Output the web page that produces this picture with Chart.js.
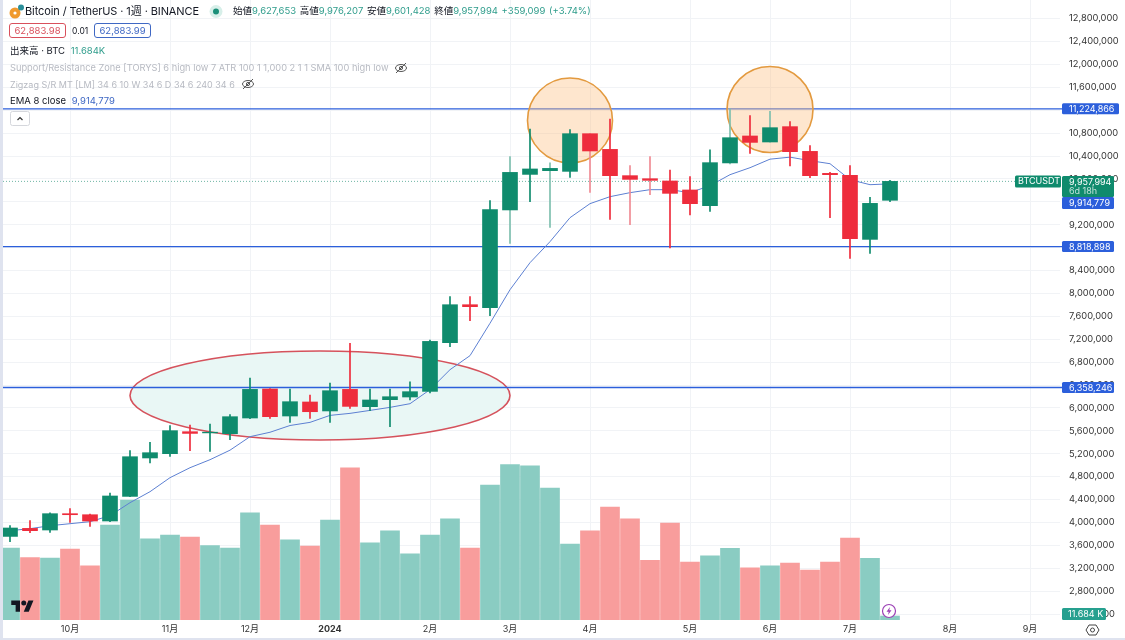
<!DOCTYPE html>
<html>
<head>
<meta charset="utf-8">
<title>BTCUSDT</title>
<script src="https://cdn.jsdelivr.net/npm/chart.js@4"></script>
<style>
  html, body { margin: 0; padding: 0; background: #fff; }
  body { width: 1125px; height: 640px; overflow: hidden; position: relative; font-family: Inter, "Noto Sans CJK JP", sans-serif; color: #131722; }
  canvas { position: absolute; left: 0; top: 0; }
  .txt { position: absolute; white-space: nowrap; line-height: 14px; }
  .strip { position: absolute; background: #dfe3ef; }
  .box { position: absolute; box-sizing: border-box; height: 15px; width: 57px; top: 23px; border-radius: 3px; border: 1px solid; font-size: 9.5px; line-height: 13px; text-align: center; }
  svg { position: absolute; }
  .up { color: #2f9d8c; }
  .muted { color: #b7bac2; }
</style>
</head>
<body>
<canvas id="chart" width="1125" height="640"></canvas>

<div class="strip" style="left:0;top:0;width:3px;height:640px"></div>
<div class="strip" style="left:0;top:638px;width:1125px;height:2px"></div>

<svg style="left:8px;top:3px" width="18" height="17"><circle cx="7" cy="10" r="5.5" fill="#f09a2e"/><circle cx="7" cy="10" r="1.6" fill="#fff"/><circle cx="13" cy="4.5" r="3" fill="#2b8f9a"/></svg>
<div class="txt" style="left:25px;top:4px;font-size:11px;letter-spacing:-0.1px">Bitcoin / TetherUS · 1週 · BINANCE</div>
<svg style="left:208px;top:4px" width="16" height="15"><circle cx="8" cy="7.5" r="6.5" fill="#d7efe9"/><circle cx="8" cy="7.5" r="3" fill="#1a8f78"/></svg>
<div class="txt" style="left:233px;top:4px;font-size:9.5px;word-spacing:1px">始値<span class="up">9,627,653</span> 高値<span class="up">9,976,207</span> 安値<span class="up">9,601,428</span> 終値<span class="up">9,957,994</span> <span class="up">+359,099 (+3.74%)</span></div>

<div class="box" style="left:9px;color:#d9505c;border-color:#d9505c">62,883.98</div>
<div class="txt" style="left:72px;top:24px;font-size:8.5px">0.01</div>
<div class="box" style="left:94px;color:#3f68c4;border-color:#3f68c4">62,883.99</div>

<div class="txt" style="left:10px;top:44px;font-size:9.5px">出来高 · BTC <span class="up" style="margin-left:3px">11.684K</span></div>
<div class="txt muted" style="left:10px;top:61px;font-size:9.25px">Support/Resistance Zone [TORYS] 6 high low 7 ATR 100 1 1,000 2 1 1 SMA 100 high low</div>
<svg style="left:394px;top:61px" width="14" height="14"><ellipse cx="7" cy="7" rx="5.5" ry="3.5" fill="none" stroke="#555" stroke-width="1"/><circle cx="7" cy="7" r="1.6" fill="none" stroke="#555"/><path d="M2 12 L12 2" stroke="#555"/></svg>
<div class="txt muted" style="left:10px;top:78px;font-size:9px">Zigzag S/R MT [LM] 34 6 10 W 34 6 D 34 6 240 34 6</div>
<svg style="left:241px;top:77px" width="14" height="14"><ellipse cx="7" cy="7" rx="5.5" ry="3.5" fill="none" stroke="#555" stroke-width="1"/><circle cx="7" cy="7" r="1.6" fill="none" stroke="#555"/><path d="M2 12 L12 2" stroke="#555"/></svg>
<div class="txt" style="left:10px;top:94px;font-size:9.5px">EMA 8 close <span style="color:#3f68c4;margin-left:3px">9,914,779</span></div>
<svg style="left:10px;top:111px" width="20" height="15"><rect x="0.5" y="0.5" width="19" height="14" rx="2" fill="#fff" stroke="#d5d7dc"/><path d="M7.5 9 L10 6.5 L12.5 9" fill="none" stroke="#333" stroke-width="1.2"/></svg>

<svg style="left:11px;top:598px" width="23" height="15" viewBox="0 0 36 24"><path fill="#131722" d="M14 22H7V11H0V4h14v18zM28 22h-8l7.5-18h8L28 22z"/><circle fill="#131722" cx="20" cy="8" r="4"/></svg>
<svg style="left:881px;top:603px" width="16" height="16"><circle cx="8" cy="8" r="6.5" fill="#fff" stroke="#9b3fb5" stroke-width="1.2"/><path d="M9 4 L5.5 8.8 L7.7 8.8 L7 12 L10.5 7.2 L8.3 7.2 Z" fill="#9b3fb5"/></svg>
<svg style="left:1085px;top:623px" width="15" height="14"><path d="M4 2 H11 L14 7 L11 12 H4 L1 7 Z" fill="none" stroke="#444"/><circle cx="7.5" cy="7" r="2" fill="none" stroke="#444"/></svg>

<script>
const monthLabels = ['', '', '', '10月', '', '', '', '', '11月', '', '', '', '12月', '', '', '', '2024', '', '', '', '', '2月', '', '', '', '3月', '', '', '', '4月', '', '', '', '', '5月', '', '', '', '6月', '', '', '', '7月', '', '', '', '', '8月', '', '', '', '9月', ''];

const candleOpen = [3757000, 3897000, 3869000, 4154000, 4136000, 4026000, 4456000, 5127000, 5202000, 5586000, 5565000, 5551000, 5825000, 6332000, 5860000, 6105000, 5948000, 6325000, 6023000, 6145000, 6192000, 6290000, 7141000, 7804000, 7752000, 9459000, 10080000, 10145000, 10133000, 10791000, 10517000, 10058000, 10005000, 9965000, 9808000, 9534000, 10280000, 10751000, 10646000, 10914000, 10482000, 10098000, 10063000, 8945000, 9627653];
const candleClose = [3904000, 3857000, 4154000, 4136000, 4026000, 4463000, 5149000, 5219000, 5604000, 5556000, 5577000, 5848000, 6325000, 5848000, 6110000, 5935000, 6302000, 6028000, 6140000, 6197000, 6285000, 7163000, 7804000, 7770000, 9464000, 10115000, 10175000, 10185000, 10791000, 10489000, 10058000, 9993000, 9976000, 9749000, 9569000, 10285000, 10721000, 10639000, 10896000, 10477000, 10058000, 10075000, 8957000, 9574000, 9957994];
const candleHigh = [3944000, 4032000, 4171000, 4241000, 4149000, 4515000, 5254000, 5399000, 5691000, 5703000, 5721000, 5883000, 6524000, 6337000, 6332000, 6227000, 6437000, 7128000, 6332000, 6332000, 6459000, 7184000, 7944000, 7944000, 9621000, 10390000, 10873000, 10280000, 10861000, 10791000, 11048000, 10232000, 10390000, 10157000, 10040000, 10507000, 11223000, 11106000, 11181000, 11001000, 10582000, 10115000, 10232000, 9679000, 9976207];
const candleLow = [3665000, 3822000, 3827000, 4002000, 3932000, 4014000, 4451000, 5039000, 5155000, 5254000, 5242000, 5446000, 5813000, 5818000, 5749000, 5818000, 5749000, 5993000, 5953000, 5673000, 6140000, 6262000, 7071000, 7525000, 7612000, 8875000, 9604000, 9155000, 10028000, 9766000, 9294000, 9202000, 9726000, 8795000, 9371000, 9434000, 10262000, 10447000, 10643000, 10227000, 10023000, 9324000, 8613000, 8700000, 9601428];
const volumeK = [210, 182, 181, 207, 158, 277, 350, 237, 248, 242, 217, 210, 313, 277, 234, 216, 292, 444, 225, 260, 193, 248, 295, 210, 394, 454, 450, 385, 222, 260, 330, 295, 174, 283, 169, 187, 209, 152, 158, 166, 146, 169, 239, 180, 11.684];
const emaValues = [3857000, 3892000, 3944000, 3979000, 4014000, 4119000, 4346000, 4538000, 4783000, 4957000, 5097000, 5263000, 5499000, 5576000, 5694000, 5749000, 5871000, 5906000, 5958000, 6011000, 6075000, 6320000, 6669000, 6914000, 7480000, 8066000, 8538000, 8905000, 9324000, 9569000, 9691000, 9761000, 9813000, 9813000, 9761000, 9883000, 10075000, 10197000, 10346000, 10381000, 10320000, 10267000, 9988000, 9900000, 9914779];

const priceTicks = [12800000, 12400000, 12000000, 11600000, 11200000, 10800000, 10400000, 10000000, 9600000, 9200000, 8800000, 8400000, 8000000, 7600000, 7200000, 6800000, 6400000, 6000000, 5600000, 5200000, 4800000, 4400000, 4000000, 3600000, 3200000, 2800000, 2400000];
const levelValues = [11224866, 8818898, 6358246];
const paleWicks = [25, 27, 29, 31, 32, 36, 38];
const lastClose = 9957994;
const lastEma = 9914779;

const GREEN = '#0f8b6d';
const RED = '#ee2c3c';
const BLUE = '#2c5fdb';

function isUp(i) {
  return candleClose[i] >= candleOpen[i];
}

// Rounded price tag on the axis
function tag(ctx, x, y, w, h, fill, lines, pad) {
  ctx.fillStyle = fill;
  ctx.beginPath();
  ctx.roundRect(x, y, w, h, 1.5);
  ctx.fill();
  ctx.fillStyle = '#fff';
  ctx.textBaseline = 'middle';
  ctx.textAlign = 'left';
  ctx.font = '9px Inter';
  lines.forEach((text, n) => {
    ctx.globalAlpha = n === 0 ? 1 : 0.75;
    ctx.fillText(text, x + pad, y + 6 + n * 9.5);
  });
  ctx.globalAlpha = 1;
}

function oval(chart, idx, xRadius, price, priceRadius, fill, stroke) {
  const { x, y } = chart.scales;
  const cx = x.getPixelForValue(idx);
  const cy = y.getPixelForValue(price);
  const rx = Math.abs(x.getPixelForValue(idx + xRadius) - cx);
  const ry = Math.abs(y.getPixelForValue(price + priceRadius) - cy);
  const ctx = chart.ctx;
  ctx.beginPath();
  ctx.ellipse(cx, cy, rx, ry, 0, 0, Math.PI * 2);
  ctx.fillStyle = fill;
  ctx.fill();
  ctx.lineWidth = 1.6;
  ctx.strokeStyle = stroke;
  ctx.stroke();
}

const drawings = {
  id: 'drawings',
  beforeDatasetsDraw(chart) {
    const { ctx, chartArea, scales } = chart;
    ctx.save();
    oval(chart, 15.5, 9.5, 6218000, 777000, '#e9f7f5', '#d5525c');

    const closeY = scales.y.getPixelForValue(lastClose);
    ctx.setLineDash([1, 2]);
    ctx.strokeStyle = '#6fb5a4';
    ctx.lineWidth = 1;
    ctx.beginPath();
    ctx.moveTo(chartArea.left, closeY);
    ctx.lineTo(1016, closeY);
    ctx.stroke();
    ctx.setLineDash([]);

    ctx.strokeStyle = BLUE;
    ctx.lineWidth = 1.3;
    levelValues.forEach(v => {
      const y = scales.y.getPixelForValue(v);
      ctx.beginPath();
      ctx.moveTo(chartArea.left, y);
      ctx.lineTo(chartArea.right + 2, y);
      ctx.stroke();
    });

    oval(chart, 28, 2.125, 11021000, 742000, 'rgba(252,190,125,0.38)', '#e39a3f');
    oval(chart, 38, 2.15, 11214000, 751000, 'rgba(252,190,125,0.38)', '#e39a3f');
    ctx.restore();
  },
  afterDraw(chart) {
    const { ctx, scales } = chart;
    ctx.save();
    levelValues.forEach(v => {
      const y = scales.y.getPixelForValue(v);
      const text = v.toLocaleString('en-US');
      tag(ctx, 1062, y - 5.5, text.length > 9 ? 57 : 52, 11, BLUE, [text], 7);
    });
    const closeY = scales.y.getPixelForValue(lastClose);
    tag(ctx, 1062, closeY - 5.5, 52, 21, GREEN, [lastClose.toLocaleString('en-US'), '6d 18h'], 7);
    tag(ctx, 1062, closeY + 15.5, 52, 12, BLUE, [lastEma.toLocaleString('en-US')], 7);
    tag(ctx, 1015, closeY - 6, 46, 12, GREEN, ['BTCUSDT'], 3);
    tag(ctx, 1062, scales.yVol.getPixelForValue(volumeK[44]) - 8, 44, 12, '#26a08f', ['11.684 K'], 6);
    ctx.restore();
  }
};

const bodyBars = candleOpen.map((v, i) => [v, candleClose[i]]);
const wickBars = candleLow.map((v, i) => [v, candleHigh[i]]);
const candleColor = c => (isUp(c.dataIndex) ? GREEN : RED);
const wickColor = c => {
  if (paleWicks.includes(c.dataIndex)) {
    return isUp(c.dataIndex) ? '#7dbfae' : '#f08a93';
  }
  return candleColor(c);
};
const volumeColor = c => (isUp(c.dataIndex) ? '#8accc2' : '#f89d9c');

new Chart(document.getElementById('chart').getContext('2d'), {
  type: 'bar',
  data: {
    labels: monthLabels,
    datasets: [{
      label: 'Body',
      data: bodyBars,
      yAxisID: 'y',
      backgroundColor: candleColor,
      barThickness: 15,
      grouped: false,
      order: 0
    }, {
      label: 'Wick',
      data: wickBars,
      yAxisID: 'y',
      backgroundColor: wickColor,
      barThickness: 1,
      grouped: false,
      order: 1
    }, {
      type: 'line',
      label: 'EMA 8',
      data: emaValues,
      yAxisID: 'y',
      borderColor: '#5d80d2',
      borderWidth: 1,
      pointRadius: 0,
      tension: 0,
      order: 2
    }, {
      label: 'Volume',
      data: volumeK,
      yAxisID: 'yVol',
      backgroundColor: volumeColor,
      barThickness: 19,
      grouped: false,
      order: 3
    }]
  },
  options: {
    responsive: false,
    animation: false,
    layout: { padding: 0 },
    plugins: { legend: { display: false }, tooltip: { enabled: false } },
    scales: {
      x: {
        offset: true,
        grid: {
          offset: false,
          drawTicks: false,
          color: c => (c.tick && monthLabels[c.tick.value] ? '#f1f3f6' : 'transparent')
        },
        border: { display: false },
        ticks: {
          autoSkip: false,
          maxRotation: 0,
          padding: 4,
          color: '#333',
          font: c => (c.tick && c.tick.label === '2024' ? { family: 'Inter', size: 9, weight: 'bold' } : { family: 'Inter, "Noto Sans CJK JP"', size: 9 })
        },
        afterFit(scale) { scale.height = 20; }
      },
      y: {
        position: 'right',
        min: 2297000,
        max: 13126000,
        grid: { drawTicks: false, color: '#f1f3f6' },
        border: { display: false },
        ticks: {
          padding: 9,
          color: '#333',
          font: { family: 'Inter', size: 9.3 },
          callback: v => v.toLocaleString('en-US')
        },
        afterBuildTicks(scale) { scale.ticks = priceTicks.map(v => ({ value: v })); },
        afterFit(scale) {
          scale.width = 65;
          scale.paddingTop = 0;
          scale.paddingBottom = 0;
        }
      },
      yVol: {
        display: false,
        min: 0,
        max: 1810
      }
    }
  },
  plugins: [drawings]
});
</script>
</body>
</html>
